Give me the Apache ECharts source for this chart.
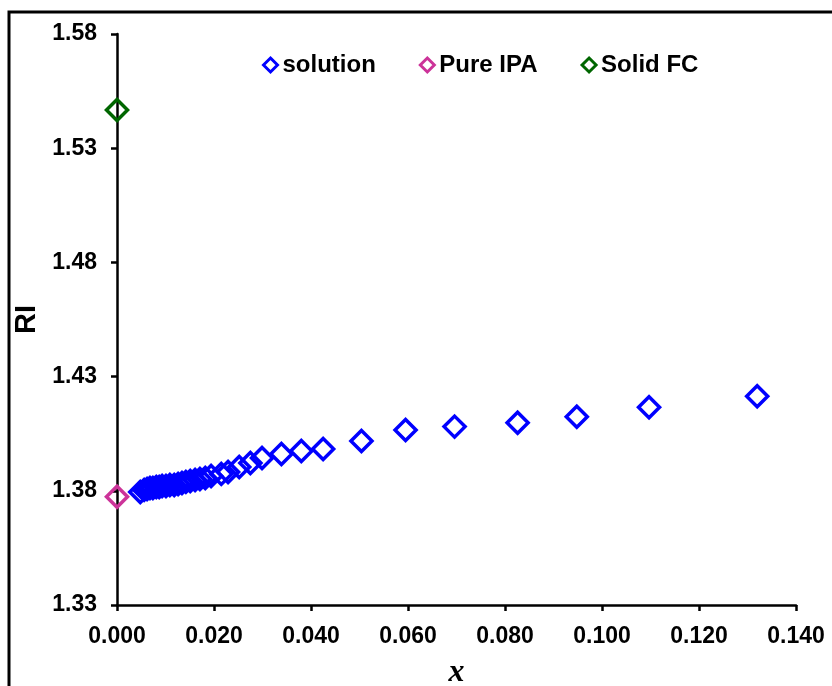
<!DOCTYPE html>
<html>
<head>
<meta charset="utf-8">
<script src="https://cdn.jsdelivr.net/npm/echarts@6/dist/echarts.min.js"></script>
<style>
  html, body { margin: 0; padding: 0; background: #fff; }
  #chart { width: 832px; height: 686px; }
</style>
</head>
<body>
<div id="chart"></div>
<script>
// Refractive index (RI) against mole fraction x
const solutionX = [0.0048, 0.0056, 0.0062, 0.0068, 0.0074, 0.0081, 0.0087, 0.0093, 0.0101, 0.0109,
  0.0118, 0.0126, 0.0134, 0.0142, 0.0151, 0.0161, 0.0171, 0.0182, 0.0194, 0.0215,
  0.0229, 0.0252, 0.0275, 0.0299, 0.0339, 0.0380, 0.0425, 0.0504, 0.0595, 0.0696,
  0.0826, 0.0948, 0.1097, 0.1320];
const solutionRI = [1.3795, 1.3804, 1.3808, 1.3812, 1.3812, 1.3817, 1.3817, 1.3821, 1.3821, 1.3825,
  1.3825, 1.3830, 1.3834, 1.3839, 1.3843, 1.3847, 1.3852, 1.3856, 1.3865, 1.3874,
  1.3882, 1.3904, 1.3922, 1.3944, 1.3961, 1.3974, 1.3983, 1.4018, 1.4066, 1.4081,
  1.4098, 1.4124, 1.4166, 1.4214];
const pureIPAX = [0.0];
const pureIPARI = [1.3774];
const solidFCX = [0.0];
const solidFCRI = [1.5467];

const seriesNames = ['solution', 'Pure IPA', 'Solid FC'];
const seriesColors = ['#0000FF', '#CC3399', '#006600'];

const zip = (xs, ys) => xs.map((v, i) => [v, ys[i]]);
const seriesData = [zip(solutionX, solutionRI), zip(pureIPAX, pureIPARI), zip(solidFCX, solidFCRI)];

const font = 'Liberation Sans, Arial, sans-serif';

const chart = echarts.init(document.getElementById('chart'), null, { renderer: 'canvas' });
chart.setOption({
  animation: false,
  backgroundColor: '#ffffff',
  graphic: [{
    type: 'rect',
    shape: { x: 9, y: 12, width: 900, height: 800 },
    style: { fill: 'none', stroke: '#000', lineWidth: 3 },
    z: 100
  }],
  grid: { left: 117, top: 34, right: 36, bottom: 81, containLabel: false, outerBoundsMode: 'none' },
  legend: {
    top: 48,
    left: 257,
    itemWidth: 14,
    itemHeight: 14,
    itemGap: 43,
    icon: 'diamond',
    itemStyle: { borderWidth: 3 },
    textStyle: { fontFamily: font, fontWeight: 'bold', fontSize: 24, color: '#000' },
    data: seriesNames
  },
  xAxis: {
    type: 'value',
    min: 0, max: 0.14, interval: 0.02,
    name: 'x',
    nameLocation: 'middle',
    nameGap: 52,
    nameTextStyle: { fontFamily: 'Liberation Serif, Times New Roman, serif', fontStyle: 'italic', fontWeight: 'bold', fontSize: 32, color: '#000' },
    axisLine: { lineStyle: { color: '#000', width: 2.5 } },
    axisTick: { show: true, inside: false, length: 6, lineStyle: { color: '#000', width: 2.5 } },
    axisLabel: { margin: 20, fontFamily: font, fontWeight: 'bold', fontSize: 23, color: '#000',
      formatter: v => v.toFixed(3) },
    splitLine: { show: false }
  },
  yAxis: {
    type: 'value',
    min: 1.33, max: 1.58, interval: 0.05,
    name: 'RI',
    nameLocation: 'middle',
    nameGap: 66,
    nameRotate: 90,
    nameTextStyle: { fontFamily: font, fontWeight: 'bold', fontSize: 29, color: '#000' },
    axisLine: { show: true, lineStyle: { color: '#000', width: 2.5 } },
    axisTick: { show: true, inside: false, length: 6, lineStyle: { color: '#000', width: 2.5 } },
    axisLabel: { margin: 20, fontFamily: font, fontWeight: 'bold', fontSize: 23, color: '#000',
      formatter: v => v.toFixed(2) },
    splitLine: { show: false }
  },
  series: seriesNames.map((name, i) => ({
    name: name,
    type: 'scatter',
    symbol: 'diamond',
    symbolSize: 21,
    data: seriesData[i],
    itemStyle: { color: 'rgba(255,255,255,0)', borderColor: seriesColors[i], borderWidth: 3.5, opacity: 1 },
    emphasis: { disabled: true }
  }))
});
</script>
</body>
</html>
